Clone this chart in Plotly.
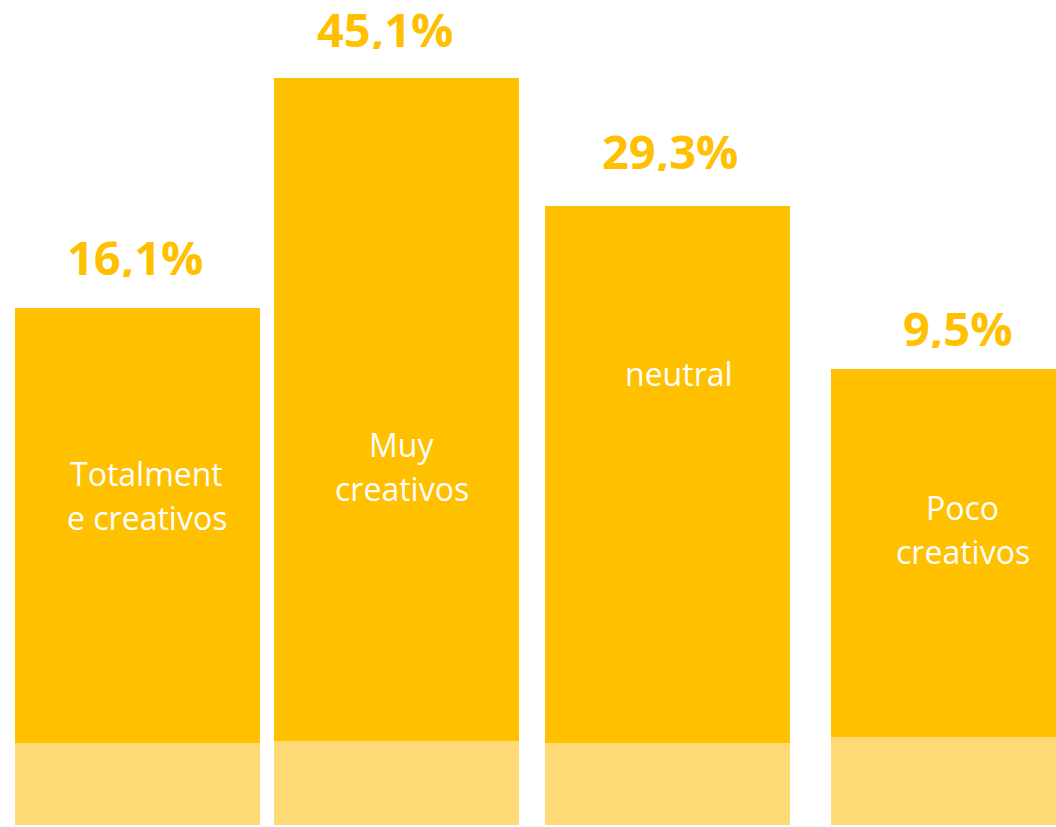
import plotly.graph_objects as go

# ---- data ----
categories = ["Totalment<br>e creativos", "Muy<br>creativos", "neutral", "Poco<br>creativos"]
values = [16.1, 45.1, 29.3, 9.5]                 # percentages shown above bars
value_labels = ["16,1%", "45,1%", "29,3%", "9,5%"]
bar_total_heights = [517, 747, 619, 456]         # drawn bar heights (as in the picture)
bar_base_heights = [82, 84, 82, 88]              # lighter bottom band heights

# ---- layout constants (positions / styles) ----
W, H = 1056, 827
Y_TOP = 825                                      # y-axis value at top pixel row
x_centers = [137.5, 396.5, 667.5, 953.5]
bar_width = 245
value_dx = [-3, -11.5, 2.5, 4]                   # horizontal offsets of value labels
value_gap = [51, 49, 55, 41]                     # bar top -> value label centre (px)
cat_dx = [9, 5, 11.5, 9]                         # horizontal offsets of category labels
cat_first_line_px = [473, 444, 373, 507]         # centre of first label line (px from top)
LINE_GAP = 44.5
DARK = "#FFC000"
LIGHT = "#FFDB78"

top_heights = [t - b for t, b in zip(bar_total_heights, bar_base_heights)]

fig = go.Figure()
fig.add_trace(go.Bar(x=x_centers, y=bar_base_heights, width=bar_width,
                     marker=dict(color=LIGHT, line=dict(width=0)), hoverinfo="skip"))
fig.add_trace(go.Bar(x=x_centers, y=top_heights, base=bar_base_heights, width=bar_width,
                     marker=dict(color=DARK, line=dict(width=0)), hoverinfo="skip"))

for xc, dx, tot, gap, vl in zip(x_centers, value_dx, bar_total_heights, value_gap, value_labels):
    fig.add_annotation(x=xc + dx, y=tot + gap, text=vl, showarrow=False, height=40,
                       font=dict(family="Open Sans", size=47, color=DARK, weight="bold"),
                       xanchor="center", yanchor="middle")

for xc, dx, p0, cat in zip(x_centers, cat_dx, cat_first_line_px, categories):
    for i, line in enumerate(cat.split("<br>")):
        fig.add_annotation(x=xc + dx, y=Y_TOP - (p0 + i * LINE_GAP), text=line, showarrow=False,
                           font=dict(family="Open Sans", size=32, color="white"),
                           xanchor="center", yanchor="middle", align="center")

fig.update_layout(
    width=W, height=H, barmode="overlay", showlegend=False,
    margin=dict(l=0, r=0, t=0, b=0),
    paper_bgcolor="white", plot_bgcolor="white",
    xaxis=dict(range=[0, W], visible=False, fixedrange=True),
    yaxis=dict(range=[Y_TOP - H, Y_TOP], visible=False, fixedrange=True),
)

fig.write_html("out.html", config={"displayModeBar": False},
               post_script="document.body.style.margin='0';document.body.style.overflow='hidden';")
